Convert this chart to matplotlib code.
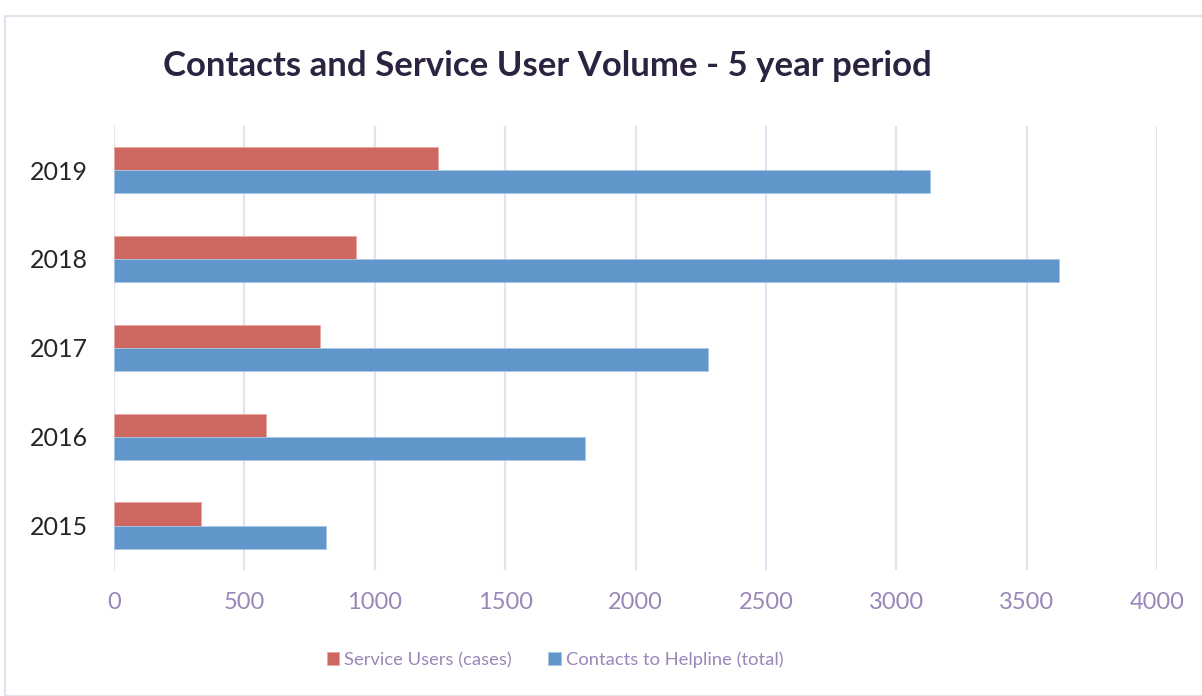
import matplotlib.pyplot as plt
from matplotlib.patches import Rectangle
import numpy as np

years = ["2015", "2016", "2017", "2018", "2019"]
service_users = [334, 582, 790, 930, 1243]
helpline_contacts = [813, 1807, 2278, 3625, 3131]
x_ticks = [0, 500, 1000, 1500, 2000, 2500, 3000, 3500, 4000]

red = "#CD675F"
blue = "#6096C9"
purple = "#9A86B8"
grid_col = "#E6E1EE"

plt.rcParams['font.family'] = ['Lato', 'DejaVu Sans']

fig = plt.figure(figsize=(12.02, 6.96), dpi=100)
fig.patches.append(Rectangle((5 / 1202, 0), 1.2, 1 - 16 / 696, transform=fig.transFigure,
                             fill=False, edgecolor=grid_col, linewidth=1.5))
ax = fig.add_axes([114 / 1202, 1 - 570 / 696, (1157 - 114) / 1202, (570 - 125.6) / 696])

y = np.arange(len(years))
h = 0.26
ax.barh(y + h / 2, service_users, height=h, color=red, edgecolor="#E8A9A4", linewidth=0.6,
        label="Service Users (cases)", zorder=3)
ax.barh(y - h / 2, helpline_contacts, height=h, color=blue, edgecolor="#A9C6E6", linewidth=0.6,
        label="Contacts to Helpline (total)", zorder=3)

ax.set_xlim(0, 4000)
ax.set_ylim(-0.5, 4.5)
ax.set_xticks(x_ticks)
ax.set_xticklabels([str(t) for t in x_ticks], color=purple, fontsize=17)
ax.set_yticks(y)
ax.set_yticklabels(years, color="#262626", fontsize=18)
ax.tick_params(axis="both", length=0)
ax.tick_params(axis="x", pad=16)
ax.tick_params(axis="y", pad=19)
ax.grid(axis="x", color=grid_col, linewidth=1.6, zorder=0)
for s in ax.spines.values():
    s.set_visible(False)

fig.text(547 / 1202, 1 - 66 / 696, "Contacts and Service User Volume - 5 year period",
         ha="center", va="center", fontsize=25, fontweight="bold", color="#2B2340")

leg = fig.legend(loc="center", bbox_to_anchor=(555 / 1202, 1 - 660 / 696), ncol=2,
                 frameon=False, fontsize=13.2, handlelength=0.7, handleheight=0.7,
                 handletextpad=0.25, columnspacing=2.0)
for t in leg.get_texts():
    t.set_color(purple)

fig.savefig("out.png", dpi=100)
